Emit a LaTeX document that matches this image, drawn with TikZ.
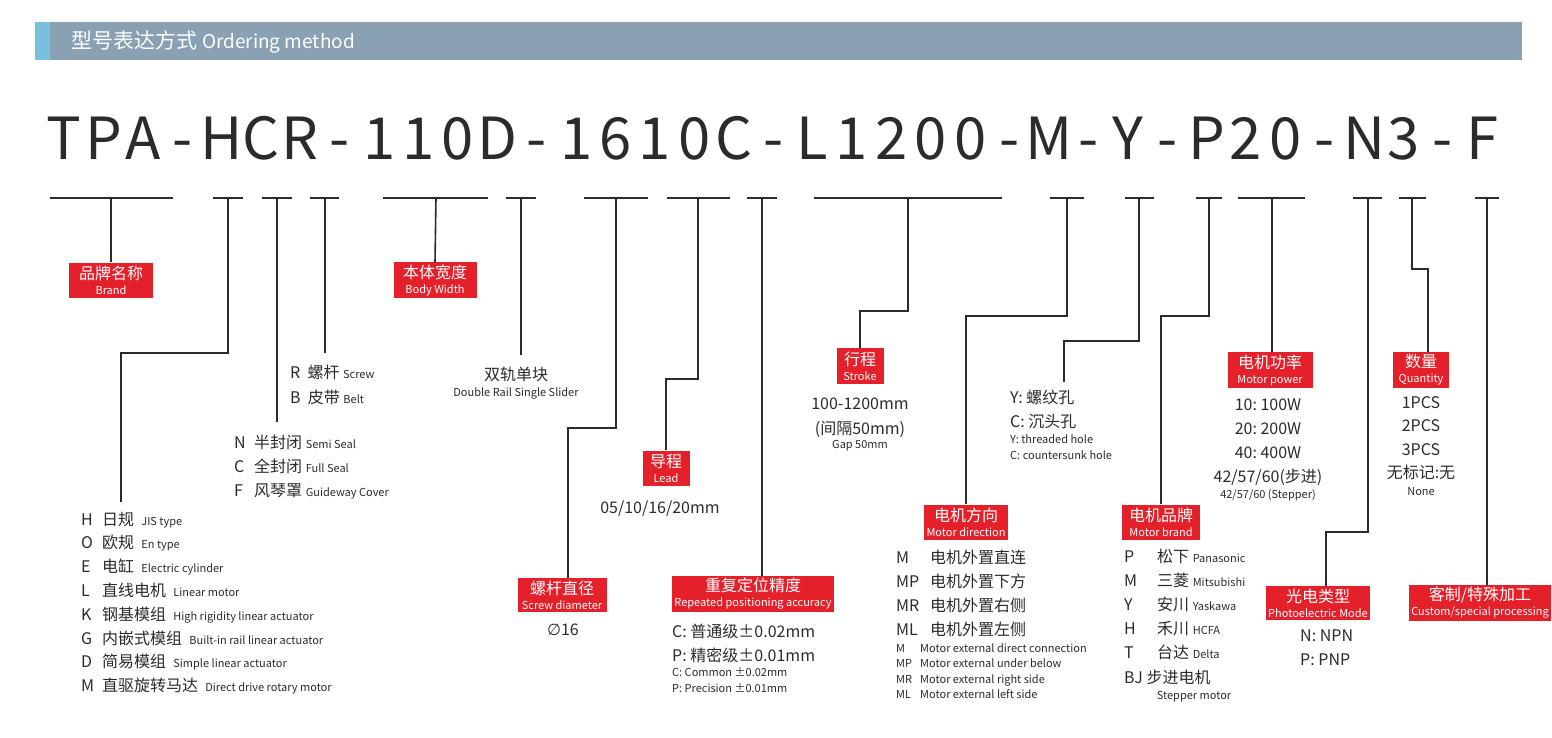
\documentclass[tikz,border=0pt]{standalone}
\usepackage{fontspec}
\setmainfont{Noto Sans CJK SC}
\newfontfamily\symfont{DejaVu Sans}
\definecolor{tagred}{HTML}{E4202A}
\definecolor{barblue}{HTML}{8AA1B4}
\definecolor{ink}{HTML}{2B2B2B}
\tikzset{
  tagbox/.style={fill=tagred, text=white, align=center, inner sep=2pt, font=\fontsize{16}{14}\selectfont},
  wire/.style={ink, line width=1.6pt},
  seg/.style={ink, line width=2.2pt},
  item/.style={anchor=base west, inner sep=0pt, text=ink, font=\fontsize{16}{18}\selectfont},
  small/.style={anchor=base west, inner sep=0pt, text=ink, font=\fontsize{11}{12}\selectfont},
  mid/.style={anchor=base, inner sep=0pt, text=ink, font=\fontsize{16}{18}\selectfont},
  midsmall/.style={anchor=base, inner sep=0pt, text=ink, font=\fontsize{11}{12}\selectfont}
}
\newcommand{\tg}[2]{{#1}\\[1pt]{\fontsize{11}{10}\selectfont #2}}
\newcommand{\en}[1]{{\fontsize{11}{10}\selectfont #1}}
\begin{document}
\begin{tikzpicture}[x=1pt, y=-1pt]
    \useasboundingbox (0,0) rectangle (1552,738);

    % header bar
    \fill [barblue] (35,22) rectangle (1522,60);
    \fill [cyan!60!teal!60] (35,22) rectangle (50,60);
    \node [anchor=west, text=white, font=\fontsize{21}{22}\selectfont] (title) at (68,42) {型号表达方式 \fontsize{19}{20}\selectfont Ordering method};

    % model code, evenly spaced characters
    \foreach \ch [count=\i] in {T,P,A,-,H,C,R,-,1,1,0,D,-,1,6,1,0,C,-,L,1,2,0,0,-,M,-,Y,-,P,2,0,-,N,3,-,F}
        \node [anchor=base, text=ink, font=\fontsize{58}{60}\selectfont] at ({64+39.4*(\i-1)},160) {\ch};

    % top segments
    \foreach \a/\b in {50/173, 213/243, 262/292, 310/339, 383/488, 506/536, 584/648, 667/730, 747/777,
                       814/1002, 1050/1084, 1125/1154, 1196/1222, 1238/1305, 1353/1382, 1399/1426, 1475/1499}
        \draw [seg] (\a,198) -- (\b,198);

    % tags
    \node [tagbox, minimum width=84pt, minimum height=35pt] (brand) at (111,280) {\tg{品牌名称}{Brand}};
    \node [tagbox, minimum width=83pt, minimum height=35pt] (width) at (435,280) {\tg{本体宽度}{Body Width}};
    \node [tagbox, minimum width=89pt, minimum height=34pt] (screw) at (562,595) {\tg{螺杆直径}{Screw diameter}};
    \node [tagbox, minimum width=47pt, minimum height=35pt] (lead) at (666,468) {\tg{导程}{Lead}};
    \node [tagbox, minimum width=160pt, minimum height=35pt] (acc) at (753,594) {\tg{重复定位精度}{Repeated positioning accuracy}};
    \node [tagbox, minimum width=47pt, minimum height=36pt] (stroke) at (860,366) {\tg{行程}{Stroke}};
    \node [tagbox, minimum width=84pt, minimum height=35pt] (mdir) at (966,522) {\tg{电机方向}{Motor direction}};
    \node [tagbox, minimum width=78pt, minimum height=35pt] (mbrand) at (1161,522) {\tg{电机品牌}{Motor brand}};
    \node [tagbox, minimum width=85pt, minimum height=36pt] (power) at (1270,370) {\tg{电机功率}{Motor power}};
    \node [tagbox, minimum width=56pt, minimum height=35pt] (qty) at (1421,370) {\tg{数量}{Quantity}};
    \node [tagbox, minimum width=80pt, minimum height=34pt] (photo) at (1318,603) {\tg{光电类型}{Photoelectric Mode}};
    \node [tagbox, minimum width=136pt, minimum height=34pt] (custom) at (1480,603) {\tg{客制/特殊加工}{Custom/special processing}};

    % free ends of the wires
    \coordinate (hEnd) at (121,502);
    \coordinate (sealEnd) at (277,422);
    \coordinate (rEnd) at (325,353);
    \coordinate (railEnd) at (521,355);
    \coordinate (holeEnd) at (1064,382);

    % wires
    \draw [wire] (111,198) -- (brand.north);
    \draw [wire] (228,198) -- (228,353) -| (hEnd);
    \draw [wire] (277,198) -- (sealEnd);
    \draw [wire] (325,198) -- (rEnd);
    \draw [wire] (436,198) -- (width.north);
    \draw [wire] (521,198) -- (railEnd);
    \draw [wire] (616,198) -- (616,428) -| (screw.north -| 568,0);
    \draw [wire] (698,198) -- (698,379) -| (lead.north);
    \draw [wire] (762,198) -- (acc.north -| 762,0);
    \draw [wire] (908,198) -- (908,311) -| (stroke.north);
    \draw [wire] (1067,198) -- (1067,316) -| (mdir.north);
    \draw [wire] (1139,198) -- (1139,341) -| (holeEnd);
    \draw [wire] (1209,198) -- (1209,316) -| (mbrand.north);
    \draw [wire] (1272,198) -- (power.north -| 1272,0);
    \draw [wire] (1368,198) -- (1368,532) -| (photo.north -| 1326,0);
    \draw [wire] (1412,198) -- (1412,269) -| (qty.north -| 1428,0);
    \draw [wire] (1487,198) -- (custom.north -| 1487,0);

    % type list
    \foreach \l/\z/\e [count=\i] in {H/日规/JIS type, O/欧规/En type, E/电缸/Electric cylinder, L/直线电机/Linear motor,
        K/钢基模组/High rigidity linear actuator, G/内嵌式模组/Built-in rail linear actuator,
        D/简易模组/Simple linear actuator, M/直驱旋转马达/Direct drive rotary motor} {
        \node [item] at (81,{525+23.8*(\i-1)}) {\l};
        \node [item] at (102,{525+23.8*(\i-1)}) {\z\ \ \en{\e}};
    }
    % seal list
    \foreach \l/\z/\e [count=\i] in {N/半封闭/Semi Seal, C/全封闭/Full Seal, F/风琴罩/Guideway Cover} {
        \node [item] at (234,{448+24*(\i-1)}) {\l};
        \node [item] at (254,{448+24*(\i-1)}) {\z\ \en{\e}};
    }
    \node [item] at (290,378) {R\ \ 螺杆 \en{Screw}};
    \node [item] at (290,403) {B\ \ 皮带 \en{Belt}};
    \node [mid] at (516,380) {双轨单块};
    \node [midsmall] at (516,396) {Double Rail Single Slider};
    \node [mid] at (563,635) {{\symfont ∅}16};
    \node [mid] at (660,513) {05/10/16/20mm};
    \node [item] at (672,637) {C:\ 普通级±0.02mm};
    \node [item] at (672,661) {P:\ 精密级±0.01mm};
    \node [small] at (672,676) {C: Common ±0.02mm};
    \node [small] at (672,692) {P: Precision ±0.01mm};
    \node [mid] at (860,409) {100-1200mm};
    \node [mid] at (860,434) {(间隔50mm)};
    \node [midsmall] at (860,448) {Gap 50mm};
    \node [item] at (1010,403) {Y:\ 螺纹孔};
    \node [item] at (1010,427) {C:\ 沉头孔};
    \node [small] at (1010,443) {Y: threaded hole};
    \node [small] at (1010,459) {C: countersunk hole};
    % motor direction
    \foreach \l/\z/\e [count=\i] in {M/直连/direct connection, MP/下方/under below, MR/右侧/right side, ML/左侧/left side} {
        \node [item] at (896,{563+24*(\i-1)}) {\l};
        \node [item] at (930,{563+24*(\i-1)}) {电机外置\z};
        \node [small] at (896,{652+15.5*(\i-1)}) {\l};
        \node [small] at (920,{652+15.5*(\i-1)}) {Motor external \e};
    }
    % motor brand
    \foreach \l/\z/\e [count=\i] in {P/松下/Panasonic, M/三菱/Mitsubishi, Y/安川/Yaskawa, H/禾川/HCFA, T/台达/Delta} {
        \node [item] at (1124,{562+24*(\i-1)}) {\l};
        \node [item] at (1157,{562+24*(\i-1)}) {\z\ \en{\e}};
    }
    \node [item] at (1124,683) {BJ\ 步进电机};
    \node [midsmall] at (1194,699) {Stepper motor};
    % power
    \foreach \t [count=\i] in {10:\ 100W, 20:\ 200W, 40:\ 400W, 42/57/60(步进)}
        \node [mid] at (1268,{410+24*(\i-1)}) {\t};
    \node [midsmall] at (1268,498) {42/57/60 (Stepper)};
    % quantity
    \foreach \t [count=\i] in {1PCS, 2PCS, 3PCS, 无标记:无}
        \node [mid] at (1421,{408+23.5*(\i-1)}) {\t};
    \node [midsmall] at (1421,495) {None};
    \node [item] at (1300,641) {N:\ NPN};
    \node [item] at (1300,665) {P:\ PNP};
\end{tikzpicture}
\end{document}
